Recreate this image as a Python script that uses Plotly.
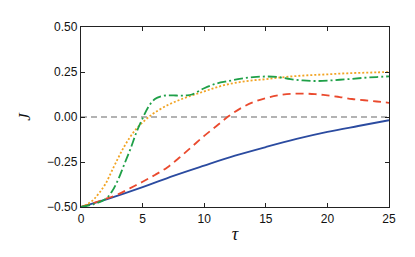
import plotly.graph_objects as go

# Blue solid
tau_blue = [0, 2.5, 5, 7.5, 10, 12.5, 15, 17.5, 20, 22.5, 25]
J_blue = [-0.5, -0.448, -0.39, -0.327, -0.27, -0.215, -0.167, -0.122, -0.083, -0.05, -0.018]

# Red dashed
tau_red = [0, 1, 2, 3, 4, 5, 6, 7, 8, 9, 10, 11, 12, 13, 14, 15, 16, 17, 18, 19, 20, 21, 22, 23, 24, 25]
J_red = [-0.5, -0.478, -0.455, -0.43, -0.395, -0.36, -0.322, -0.28, -0.225, -0.165, -0.105, -0.05,
         0.005, 0.05, 0.083, 0.105, 0.12, 0.129, 0.13, 0.127, 0.12, 0.111, 0.1, 0.093, 0.086, 0.079]

# Green dash-dot
tau_green = [0, 1, 2, 2.5, 3, 3.5, 4, 4.5, 5, 5.5, 6, 6.5, 7, 7.5, 8, 8.5, 9, 10, 11, 12, 13, 14, 15,
             16, 17, 18, 19, 20, 21, 22, 23, 24, 25]
J_green = [-0.5, -0.485, -0.455, -0.415, -0.35, -0.265, -0.18, -0.085, -0.008, 0.06, 0.1, 0.115,
           0.12, 0.12, 0.119, 0.12, 0.125, 0.16, 0.186, 0.2, 0.213, 0.222, 0.225, 0.222, 0.21,
           0.203, 0.2, 0.202, 0.207, 0.212, 0.218, 0.222, 0.226]

# Orange dotted
tau_orange = [0, 0.5, 1, 1.5, 2, 2.5, 3, 3.5, 4, 4.5, 5, 5.5, 6, 7, 8, 9, 10, 11, 12, 13, 14, 15,
              16, 17, 18, 19, 20, 21, 22, 23, 24, 25]
J_orange = [-0.5, -0.485, -0.46, -0.42, -0.37, -0.3, -0.23, -0.165, -0.11, -0.065, -0.03, 0.0,
            0.025, 0.065, 0.095, 0.12, 0.142, 0.165, 0.183, 0.195, 0.204, 0.21, 0.218, 0.225, 0.23,
            0.234, 0.237, 0.241, 0.244, 0.246, 0.248, 0.25]

x_ticks = [0, 5, 10, 15, 20, 25]
y_ticks = [-0.5, -0.25, 0, 0.25, 0.5]

fig = go.Figure()
fig.add_shape(type="line", x0=0, x1=25, y0=0, y1=0, xref="x", yref="y",
              line=dict(color="#9a9a9a", width=1.3, dash="6px,4px"), layer="below")

fig.add_trace(go.Scatter(x=tau_blue, y=J_blue, mode="lines", line_shape="spline",
                         line=dict(color="#2b4ba0", width=1.8)))
fig.add_trace(go.Scatter(x=tau_red, y=J_red, mode="lines", line_shape="spline",
                         line=dict(color="#ea4a2e", width=1.8, dash="8px,5px")))
fig.add_trace(go.Scatter(x=tau_orange, y=J_orange, mode="lines", line_shape="spline",
                         line=dict(color="#f2a424", width=1.8, dash="2px,2px")))
fig.add_trace(go.Scatter(x=tau_green, y=J_green, mode="lines", line_shape="spline",
                         line=dict(color="#1fa048", width=1.8, dash="9px,3px,2px,3px")))

axis_common = dict(showline=True, mirror="ticks", ticks="inside", ticklen=4, tickwidth=1,
                   linecolor="#222", linewidth=1.3, tickcolor="#222", showgrid=False,
                   zeroline=False, tickfont=dict(family="Liberation Sans, Arial", size=12, color="#111"))

fig.update_layout(
    width=415, height=257,
    margin=dict(l=73, r=34, t=15, b=58),
    paper_bgcolor="white", plot_bgcolor="white",
    showlegend=False,
    xaxis=dict(range=[0, 25], tickvals=x_ticks, ticktext=[str(v) for v in x_ticks],
               title=dict(text="<i>τ</i>", font=dict(family="Liberation Serif", size=18, color="#111"),
                          standoff=2),
               **axis_common),
    yaxis=dict(range=[-0.5, 0.5], tickvals=y_ticks, tickformat=".2f",
               title=dict(text="<i>J</i>", font=dict(family="Liberation Serif", size=17, color="#111"),
                          standoff=12),
               **axis_common),
)

fig.write_html("out.html")
